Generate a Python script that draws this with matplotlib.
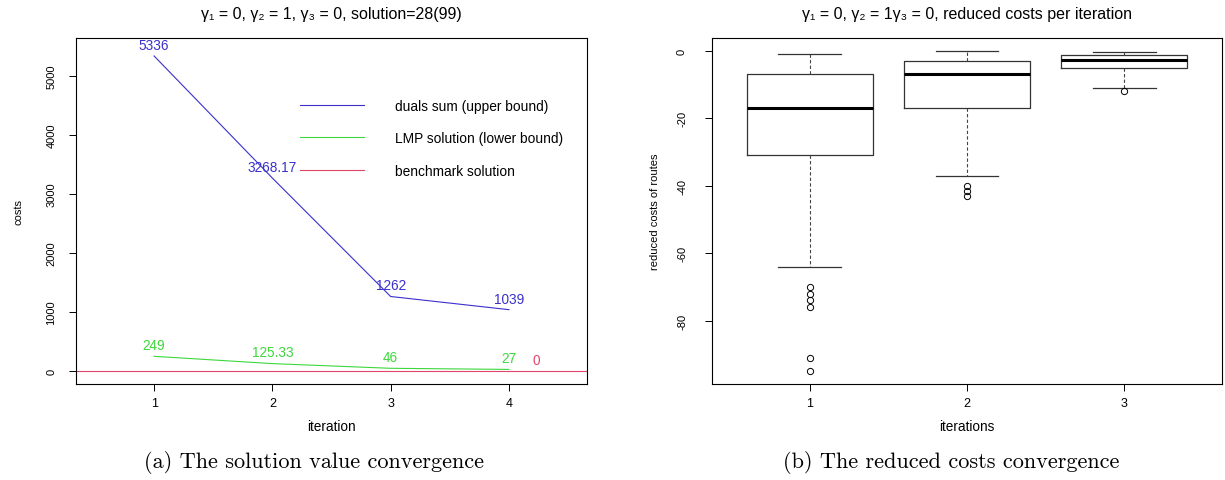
import matplotlib
matplotlib.use('Agg')
import matplotlib.pyplot as plt
from matplotlib.lines import Line2D

plt.rcParams['font.family'] = ['Liberation Sans', 'DejaVu Sans']
plt.rcParams['axes.unicode_minus'] = False

# (a) solution value per iteration
iterations = [1, 2, 3, 4]
duals_sum = [5336, 3268.17, 1262, 1039]
lmp_solution = [249, 125.33, 46, 27]
duals_text = ['5336', '3268.17', '1262', '1039']
lmp_text = ['249', '125.33', '46', '27']
benchmark = 0
legend_labels = ['duals sum (upper bound)', 'LMP solution (lower bound)', 'benchmark solution']

# (b) reduced costs of routes, box statistics
box_pos = [1, 2, 3]
whisker_hi = [-1, 0, -0.3]
q3 = [-7, -3, -1.2]
medians = [-17, -7, -2.6]
q1 = [-31, -17, -5]
whisker_lo = [-64, -37, -11]
outliers = [[-70, -72, -74, -76, -91, -95], [-40, -41.5, -43], [-12]]

blue = '#3a30cc'
green = '#3cd83c'
red = '#e2456c'

W, H = 1225, 481
fig = plt.figure(figsize=(W / 100, H / 100), dpi=100)
ax1 = fig.add_axes([76 / W, 1 - 385 / H, 511 / W, 346 / H])
ax2 = fig.add_axes([712 / W, 1 - 385 / H, 510 / W, 346 / H])

# ---- left chart
ax1.plot(iterations, duals_sum, color=blue, lw=0.8)
ax1.plot(iterations, lmp_solution, color=green, lw=0.8)
ax1.axhline(benchmark, color=red, lw=0.8)
for x, y, t in zip(iterations, duals_sum, duals_text):
    ax1.annotate(t, (x, y), xytext=(0, 8), textcoords='offset points',
                 ha='center', va='center', color=blue, fontsize=9.8)
for x, y, t in zip(iterations, lmp_solution, lmp_text):
    ax1.annotate(t, (x, y), xytext=(0, 8), textcoords='offset points',
                 ha='center', va='center', color=green, fontsize=9.8)
ax1.annotate('0', (4.23, benchmark), xytext=(0, 8), textcoords='offset points',
             ha='center', va='center', color=red, fontsize=9.8)

handles = [Line2D([], [], color=c, lw=0.8) for c in (blue, green, red)]
ax1.legend(handles, legend_labels, loc='upper left', bbox_to_anchor=(0.438, 0.825),
           frameon=False, fontsize=9.9, handlelength=4.7, handletextpad=2.2,
           labelspacing=1.35, borderpad=0, borderaxespad=0)

ax1.set_xlim(0.34, 4.66)
ax1.set_ylim(-220, 5640)
ax1.set_xticks(iterations)
ax1.set_yticks([0, 1000, 2000, 3000, 4000, 5000])

# ---- right chart
stats = []
for i in range(len(box_pos)):
    stats.append(dict(med=medians[i], q1=q1[i], q3=q3[i],
                      whislo=whisker_lo[i], whishi=whisker_hi[i], fliers=outliers[i]))
ax2.bxp(stats, positions=box_pos, widths=0.8, capwidths=0.4,
        boxprops=dict(color='#333333', lw=0.9),
        medianprops=dict(color='black', lw=2.2),
        whiskerprops=dict(color='#444444', lw=0.8, ls=(0, (3, 2))),
        capprops=dict(color='#333333', lw=0.9),
        flierprops=dict(marker='o', mfc='none', mec='black', ms=4.5, mew=0.7))
ax2.set_xlim(0.38, 3.62)
ax2.set_ylim(-98.8, 3.8)
ax2.set_xticks(box_pos)
ax2.set_xticklabels(['1', '2', '3'])
ax2.set_yticks([0, -20, -40, -60, -80])

for ax, ypad in ((ax1, 9), (ax2, 13)):
    for s in ax.spines.values():
        s.set_linewidth(0.8)
    ax.tick_params(direction='out', length=5, width=0.7)
    ax.tick_params(axis='x', pad=4.5, labelsize=9)
    ax.tick_params(axis='y', pad=ypad, labelrotation=90, labelsize=8)
    for lab in ax.get_yticklabels():
        lab.set_va('center')

# titles, axis labels and captions
fig.text(331 / W, 1 - 14 / H, 'γ₁ = 0, γ₂ = 1, γ₃ = 0, solution=28(99)',
         ha='center', va='center', fontsize=11.5)
fig.text(967 / W, 1 - 14 / H, 'γ₁ = 0, γ₂ = 1γ₃ = 0, reduced costs per iteration',
         ha='center', va='center', fontsize=11.5)
fig.text(331 / W, 1 - 427 / H, 'iteration', ha='center', va='center', fontsize=9.8)
fig.text(967 / W, 1 - 427 / H, 'iterations', ha='center', va='center', fontsize=9.8)
fig.text(18 / W, 1 - 212 / H, 'costs', ha='center', va='center', rotation=90, fontsize=8)
fig.text(655 / W, 1 - 212 / H, 'reduced costs of routes', ha='center', va='center',
         rotation=90, fontsize=8)
fig.text(314 / W, 1 - 462 / H, '(a) The solution value convergence',
         ha='center', va='center', fontsize=16, family='cmr10')
fig.text(951 / W, 1 - 462 / H, '(b) The reduced costs convergence',
         ha='center', va='center', fontsize=16, family='cmr10')

fig.savefig('out.png', dpi=100)
